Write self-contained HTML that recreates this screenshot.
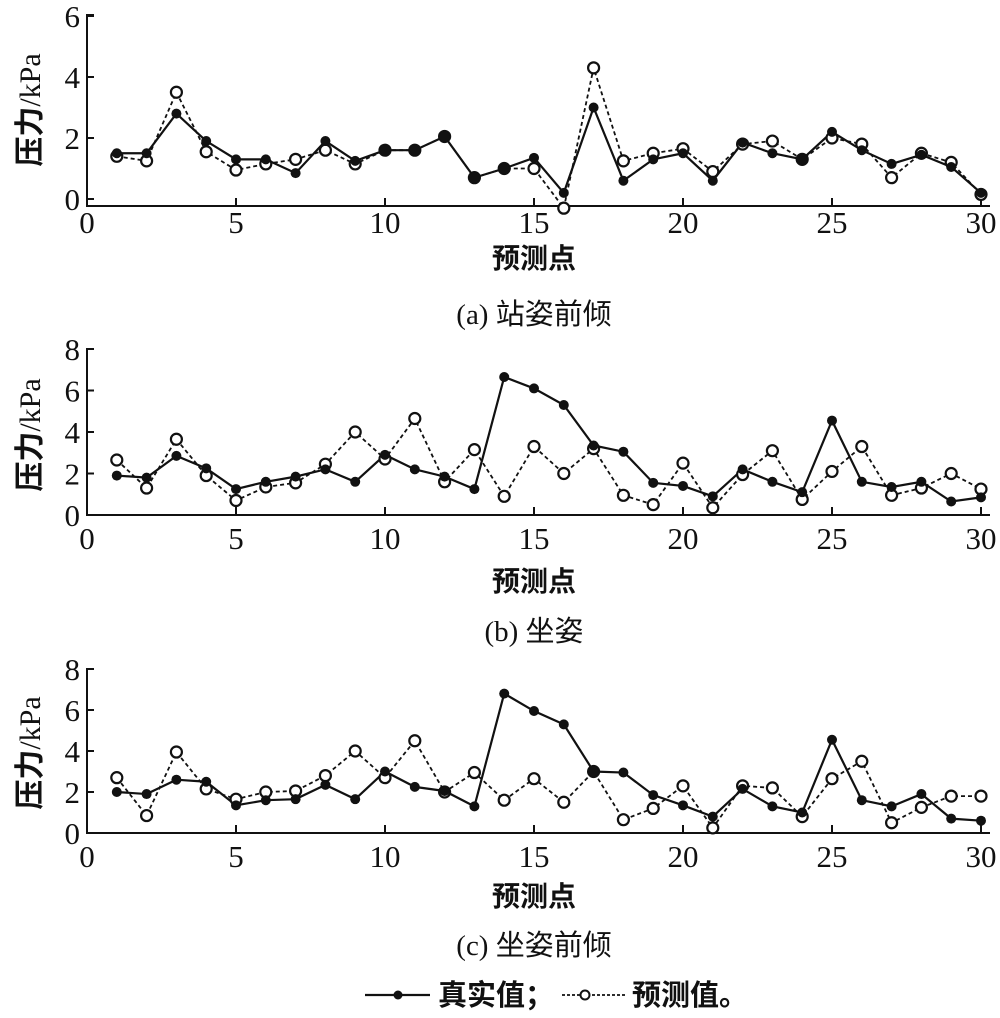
<!DOCTYPE html>
<html><head><meta charset="utf-8"><style>
body{margin:0;background:#fff;width:1000px;height:1013px;overflow:hidden}
svg text{font-family:"Liberation Serif","Noto Serif CJK SC",serif;fill:#111}
.cj{font-family:"Liberation Serif","Noto Sans CJK SC",sans-serif;font-weight:bold}
</style></head><body>
<svg id="s" width="1000" height="1013" xmlns="http://www.w3.org/2000/svg"></svg>
<script>
const s=document.getElementById('s');let h='';
const X=i=>87+29.8*i;
const panels=[
{top:15,zero:199,bot:206,max:6,step:2,per:30.5,
r:[1.5,1.5,2.8,1.9,1.3,1.3,0.85,1.9,1.25,1.6,1.6,2.05,0.7,1.0,1.35,0.2,3.0,0.6,1.3,1.5,0.6,1.85,1.5,1.3,2.2,1.6,1.15,1.45,1.05,0.2],
p:[1.4,1.25,3.5,1.55,0.95,1.15,1.3,1.6,1.15,1.6,1.6,2.05,0.7,1.0,1.0,-0.3,4.3,1.25,1.5,1.65,0.9,1.8,1.9,1.3,2.0,1.8,0.7,1.5,1.2,0.15],
tl:233,xl:268,cap:324,capt:"(a) 站姿前倾",yc:110},
{top:349,zero:515,bot:515,max:8,step:2,per:20.75,
r:[1.9,1.8,2.85,2.25,1.25,1.6,1.85,2.2,1.6,2.9,2.2,1.85,1.25,6.65,6.1,5.3,3.35,3.05,1.55,1.4,0.9,2.2,1.6,1.1,4.55,1.6,1.35,1.6,0.65,0.85],
p:[2.65,1.3,3.65,1.9,0.7,1.35,1.55,2.45,4.0,2.7,4.65,1.6,3.15,0.9,3.3,2.0,3.2,0.95,0.5,2.5,0.35,1.95,3.1,0.75,2.1,3.3,0.95,1.3,2.0,1.25],
tl:549,xl:591,cap:641,capt:"(b) 坐姿",yc:435},
{top:669,zero:833,bot:833,max:8,step:2,per:20.5,
r:[2.0,1.9,2.6,2.5,1.35,1.6,1.65,2.35,1.65,3.0,2.25,2.05,1.3,6.8,5.95,5.3,3.0,2.95,1.85,1.35,0.8,2.15,1.3,1.0,4.55,1.6,1.3,1.9,0.7,0.6],
p:[2.7,0.85,3.95,2.15,1.65,2.0,2.05,2.8,4.0,2.7,4.5,2.0,2.95,1.6,2.65,1.5,3.0,0.65,1.2,2.3,0.25,2.3,2.2,0.8,2.65,3.5,0.5,1.25,1.8,1.8],
tl:867,xl:906,cap:955,capt:"(c) 坐姿前倾",yc:753}];
for(const P of panels){
 const Y=v=>P.zero-P.per*v;
 h+=`<path d="M94 ${P.top}H87V${P.bot}H990" fill="none" stroke="#111" stroke-width="2"/>`;
 for(let v=0;v<=P.max;v+=P.step){const y=Y(v);h+=`<line x1="87" x2="94" y1="${y}" y2="${y}" stroke="#111" stroke-width="2"/><text x="80" y="${y+11}" font-size="31" text-anchor="end">${v}</text>`;}
 for(let i=0;i<=30;i+=5){const x=X(i);h+=`<line x1="${x}" x2="${x}" y1="${P.bot}" y2="${P.bot-8}" stroke="#111" stroke-width="2"/><text x="${x}" y="${P.tl}" font-size="31" text-anchor="middle">${i}</text>`;}
 const pts=a=>a.map((v,i)=>X(i+1)+','+Y(v)).join(' ');
 h+=`<polyline points="${pts(P.p)}" fill="none" stroke="#111" stroke-width="1.8" stroke-dasharray="4,3"/>`;
 h+=`<polyline points="${pts(P.r)}" fill="none" stroke="#111" stroke-width="2.2"/>`;
 P.p.forEach((v,i)=>h+=`<circle cx="${X(i+1)}" cy="${Y(v)}" r="5.5" fill="#fff" stroke="#111" stroke-width="2.2"/>`);
 P.r.forEach((v,i)=>h+=`<circle cx="${X(i+1)}" cy="${Y(v)}" r="5" fill="#111"/>`);
 h+=`<text class="cj" x="534" y="${P.xl}" font-size="28" text-anchor="middle">预测点</text>`;
 h+=`<text class="cj" x="534" y="${P.cap}" font-size="29" text-anchor="middle" style="font-weight:normal">${P.capt}</text>`;
 h+=`<text x="0" y="0" font-size="30" text-anchor="middle" transform="translate(40 ${P.yc}) rotate(-90)"><tspan class="cj">压力</tspan>/kPa</text>`;
}
h+=`<line x1="365" x2="430" y1="995" y2="995" stroke="#111" stroke-width="2.2"/><circle cx="398" cy="995" r="4.5" fill="#111"/>`;
h+=`<text class="cj" x="438" y="1005" font-size="29">真实值；</text>`;
h+=`<line x1="562" x2="625" y1="995" y2="995" stroke="#111" stroke-width="1.8" stroke-dasharray="3,2"/><circle cx="585" cy="995" r="4.5" fill="#fff" stroke="#111" stroke-width="2"/>`;
h+=`<text class="cj" x="632" y="1005" font-size="29">预测值。</text>`;
s.innerHTML=h;
</script>
</body></html>
